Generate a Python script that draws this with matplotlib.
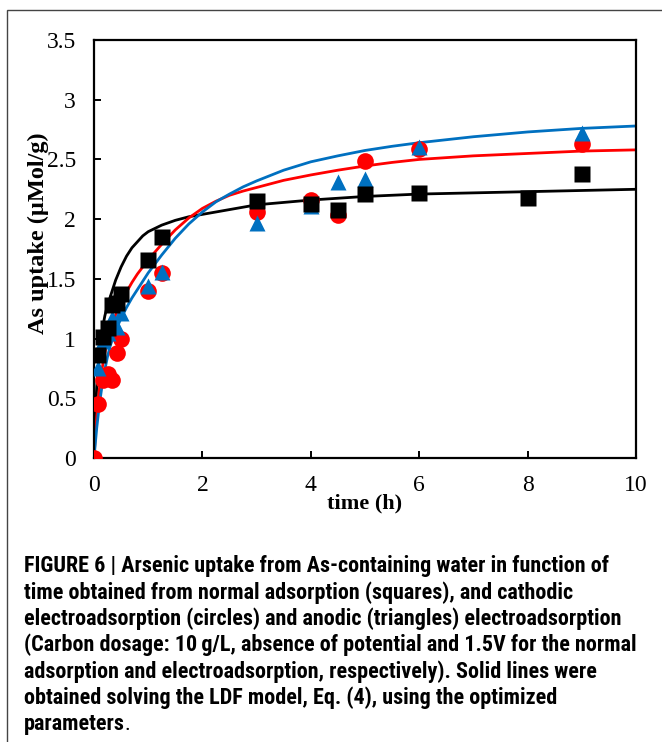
import matplotlib
matplotlib.use("Agg")
import matplotlib.pyplot as plt
from matplotlib import font_manager
from matplotlib.patches import Rectangle

# experimental points (time in h, uptake in uMol/g)
t_normal = [0.083, 0.167, 0.25, 0.333, 0.417, 0.5, 1, 1.25, 3, 4, 4.5, 5, 6, 8, 9]
q_normal = [0.86, 1.01, 1.09, 1.28, 1.30, 1.37, 1.66, 1.85, 2.15, 2.13, 2.08, 2.21, 2.22, 2.18, 2.38]

t_cathodic = [0, 0.083, 0.167, 0.25, 0.333, 0.417, 0.5, 1, 1.25, 3, 4, 4.5, 5, 6, 9]
q_cathodic = [0, 0.45, 0.65, 0.70, 0.65, 0.88, 1.00, 1.40, 1.55, 2.06, 2.16, 2.035, 2.49, 2.59, 2.63]

t_anodic = [0.083, 0.167, 0.25, 0.333, 0.417, 0.5, 1, 1.25, 3, 4, 4.5, 5, 6, 9]
q_anodic = [0.75, 0.98, 1.05, 1.17, 1.10, 1.21, 1.44, 1.56, 1.97, 2.11, 2.31, 2.34, 2.60, 2.72]

# LDF model curves
t_fit = [0, 0.02, 0.05, 0.1, 0.15, 0.2, 0.25, 0.3, 0.4, 0.5, 0.6, 0.7, 0.8, 0.9, 1.0,
         1.25, 1.5, 1.75, 2.0, 2.25, 2.5, 2.75, 3, 3.5, 4, 4.5, 5, 5.5, 6, 7, 8, 9, 10]
fit_normal = [0, 0.30, 0.60, 0.90, 1.07, 1.19, 1.28, 1.35, 1.49, 1.60, 1.69, 1.76, 1.81, 1.86, 1.895,
              1.95, 1.99, 2.02, 2.04, 2.06, 2.08, 2.10, 2.12, 2.14, 2.16, 2.175, 2.19, 2.20, 2.21,
              2.22, 2.23, 2.24, 2.25]
fit_cathodic = [0, 0.15, 0.35, 0.58, 0.75, 0.88, 0.98, 1.07, 1.20, 1.30, 1.39, 1.47, 1.54, 1.60, 1.66,
                1.79, 1.91, 2.01, 2.09, 2.15, 2.20, 2.235, 2.265, 2.325, 2.37, 2.41, 2.445, 2.475, 2.50,
                2.53, 2.55, 2.57, 2.58]
fit_anodic = [0, 0.10, 0.25, 0.45, 0.61, 0.74, 0.85, 0.94, 1.07, 1.17, 1.26, 1.34, 1.41, 1.48, 1.55,
              1.70, 1.84, 1.96, 2.06, 2.145, 2.21, 2.27, 2.32, 2.41, 2.48, 2.53, 2.575, 2.61, 2.64,
              2.69, 2.73, 2.76, 2.78]

caption_lines = [
    "FIGURE 6 | Arsenic uptake from As-containing water in function of",
    "time obtained from normal adsorption (squares), and cathodic",
    "electroadsorption (circles) and anodic (triangles) electroadsorption",
    "(Carbon dosage: 10\u2009g/L, absence of potential and 1.5V for the normal",
    "adsorption and electroadsorption, respectively). Solid lines were",
    "obtained solving the LDF model, Eq. (4), using the optimized",
    "parameters",
]


def caption_font():
    # a condensed sans if one is installed, otherwise plain Liberation Sans a bit smaller
    fonts = font_manager.fontManager.ttflist
    names = {f.name for f in fonts}
    for name in ["Liberation Sans Narrow", "Roboto Condensed", "Open Sans Condensed"]:
        if name in names:
            return dict(family=name), 15.9
    for name in ["Noto Sans", "DejaVu Sans", "Open Sans", "Roboto"]:
        for f in fonts:
            if f.name == name and str(f.stretch) in ("condensed", "semi-condensed", "300", "400"):
                return dict(family=name, stretch=f.stretch), 15.9
    return dict(family="Liberation Sans"), 13.2


W, H = 662, 742
fig = plt.figure(figsize=(W / 100, H / 100), dpi=100)
fig.patch.set_facecolor("white")

# outer frame of the figure panel
fig.patches.append(Rectangle((7 / W, -0.1), 1.2, 1.1 - 10 / H, transform=fig.transFigure,
                             fill=False, edgecolor="#444444", linewidth=1.0))

ax = fig.add_axes([94 / W, 1 - 458 / H, 542 / W, 418 / H])

blue = "#0070C0"
ax.plot(t_fit, fit_normal, color="black", lw=2.0, zorder=2)
ax.plot(t_fit, fit_cathodic, color="red", lw=2.0, zorder=2)
ax.plot(t_fit, fit_anodic, color=blue, lw=2.0, zorder=2)

ax.plot(t_cathodic, q_cathodic, "o", color="red", ms=12, mec="none", zorder=3)
ax.plot(t_anodic, q_anodic, "^", color=blue, ms=12, mec="none", zorder=4)
ax.plot(t_normal, q_normal, "s", color="black", ms=11, mec="none", zorder=5)

ax.set_xlim(0, 10)
ax.set_ylim(0, 3.5)
ax.set_xticks([0, 2, 4, 6, 8, 10])
ax.set_yticks([0, 0.5, 1, 1.5, 2, 2.5, 3, 3.5])
ax.set_yticklabels(["0", "0.5", "1", "1.5", "2", "2.5", "3", "3.5"])

for s in ax.spines.values():
    s.set_linewidth(1.6)
ax.tick_params(direction="in", length=5, width=1.4, top=False, right=False,
               labelsize=17, labelfontfamily="Liberation Serif")
ax.tick_params(axis="x", pad=12)
ax.tick_params(axis="y", pad=13)

ax.set_xlabel("time (h)", fontsize=16, fontweight="bold", family="Liberation Serif")
ax.xaxis.set_label_coords(0.5, -0.085)
ax.set_ylabel("As uptake (\u00b5Mol/g)", fontsize=17.5, fontweight="bold", family="Liberation Serif")
ax.yaxis.set_label_coords(-0.083, 0.538)

cap_props, cap_size = caption_font()
y0 = 566
for i, line in enumerate(caption_lines):
    t = fig.text(24 / W, 1 - (y0 + i * 26.4) / H, line, fontsize=cap_size, fontweight="bold",
                 va="center", ha="left", **cap_props)
ax.annotate(".", xy=(1, 0), xycoords=t, xytext=(-0.5, 0), textcoords="offset points",
            fontsize=cap_size, va="bottom", ha="left", annotation_clip=False, **cap_props)

fig.savefig("out.png", dpi=100)
